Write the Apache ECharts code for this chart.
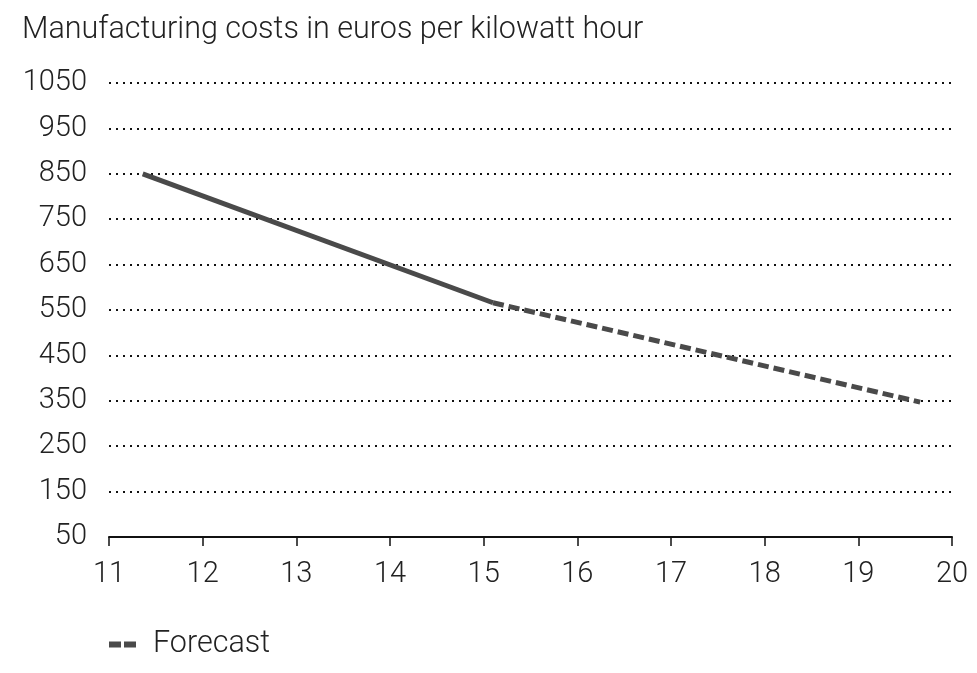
<!DOCTYPE html>
<html>
<head>
<meta charset="utf-8">
<script src="https://cdn.jsdelivr.net/npm/echarts@6/dist/echarts.min.js"></script>
<style>html,body{margin:0;padding:0;background:#fff}#c{width:977px;height:673px}</style>
</head>
<body>
<div id="c"></div>
<script>
const titleText = 'Manufacturing costs in euros per kilowatt hour';
const xTicks = [11, 12, 13, 14, 15, 16, 17, 18, 19, 20];
const yTicks = [50, 150, 250, 350, 450, 550, 650, 750, 850, 950, 1050];
const actualYears = [11.36, 15.1];
const actualCosts = [850, 566];
const forecastYears = [15.1, 19.66];
const forecastCosts = [566, 347];
const legendLabel = 'Forecast';

const FONT = 'Roboto';
const chart = echarts.init(document.getElementById('c'), null, {renderer: 'canvas'});
chart.setOption({
  animation: false,
  backgroundColor: '#fff',
  title: {
    text: titleText, left: 17, top: 10,
    textStyle: {fontFamily: FONT, fontWeight: 300, fontSize: 30.5, color: '#222'}
  },
  legend: {
    data: [legendLabel], left: 104, top: 624,
    icon: 'path://M0,0H12V6H0Z M15,0H27V6H15Z',
    itemWidth: 27, itemHeight: 6, itemGap: 10,
    textStyle: {fontFamily: FONT, fontWeight: 300, fontSize: 30.5, color: '#222', padding: [0, 0, 0, 12]}
  },
  grid: {left: 109, right: 25, top: 83, bottom: 136, containLabel: false},
  xAxis: {
    type: 'value', min: xTicks[0], max: xTicks[xTicks.length - 1], interval: 1,
    axisLine: {show: true, lineStyle: {color: '#111', width: 2}},
    axisTick: {show: true, length: 9, lineStyle: {color: '#111', width: 1.5}},
    axisLabel: {margin: 23, fontFamily: FONT, fontWeight: 300, fontSize: 29, color: '#222',
      formatter: v => String(v)},
    splitLine: {show: false}
  },
  yAxis: {
    type: 'value', min: yTicks[0], max: yTicks[yTicks.length - 1], interval: 100,
    axisLine: {show: false}, axisTick: {show: false},
    axisLabel: {margin: 22, fontFamily: FONT, fontWeight: 300, fontSize: 29, color: '#222',
      formatter: v => String(v)},
    splitLine: {show: true, lineStyle: {color: '#111', width: 2, type: [2, 5]}}
  },
  series: [
    {
      name: 'Actual', type: 'line', showSymbol: false, symbol: 'none',
      data: actualYears.map((x, i) => [x, actualCosts[i]]),
      lineStyle: {color: '#4a4a4a', width: 5}, z: 3
    },
    {
      name: legendLabel, type: 'line', showSymbol: false, symbol: 'none',
      data: forecastYears.map((x, i) => [x, forecastCosts[i]]),
      itemStyle: {color: '#4a4a4a'},
      lineStyle: {color: '#4a4a4a', width: 5, type: [11, 5]}, z: 3
    }
  ]
});
</script>
</body>
</html>
